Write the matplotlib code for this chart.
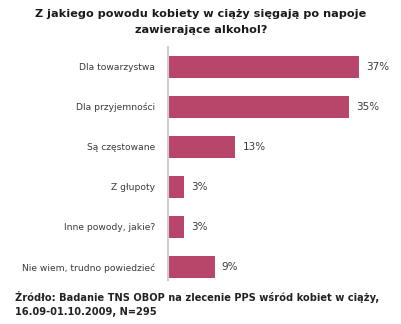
import matplotlib.pyplot as plt

# Odpowiedzi i udział procentowy
categories = ["Dla towarzystwa", "Dla przyjemności", "Są częstowane",
              "Z głupoty", "Inne powody, jakie?", "Nie wiem, trudno powiedzieć"]
values = [37, 35, 13, 3, 3, 9]
value_labels = ["37%", "35%", "13%", "3%", "3%", "9%"]

bar_color = "#B8466B"
text_gray = "#3a3a3a"

fig = plt.figure(figsize=(4.02, 3.24), dpi=100)
fig.patch.set_facecolor("white")

# oś zaczyna się przy x=168 px, 1% ~ 5.17 px
ax = fig.add_axes([168 / 402, 1 - 280 / 324, (402 - 168) / 402, (280 - 47) / 324])
pos = list(range(len(categories)))
ax.barh(pos, values, height=0.55, color=bar_color, edgecolor="none")
ax.set_xlim(0, (402 - 168) / 5.17)
ax.set_ylim(5.33, -0.49)

for p, v, lab in zip(pos, values, value_labels):
    ax.text(v + 1.4, p, lab, va="center", ha="left", fontsize=7.5, color=text_gray)

ax.set_yticks(pos)
ax.set_yticklabels(categories, fontsize=6.6, color=text_gray)
ax.tick_params(axis="y", length=0, pad=9)
ax.set_xticks([])
for side in ["top", "right", "bottom"]:
    ax.spines[side].set_visible(False)
ax.spines["left"].set_color("#cfcfcf")
ax.spines["left"].set_linewidth(1.5)

fig.text(0.5, 1 - 14 / 324, "Z jakiego powodu kobiety w ciąży sięgają po napoje",
         ha="center", va="center", fontsize=8.1, fontweight="bold", color="#1a1a1a")
fig.text(0.5, 1 - 30 / 324, "zawierające alkohol?",
         ha="center", va="center", fontsize=8.1, fontweight="bold", color="#1a1a1a")

fig.text(15 / 402, 1 - 297 / 324, "Źródło: Badanie TNS OBOP na zlecenie PPS wśród kobiet w ciąży,",
         ha="left", va="center", fontsize=7.1, fontweight="bold", color="#222222")
fig.text(15 / 402, 1 - 312 / 324, "16.09-01.10.2009, N=295",
         ha="left", va="center", fontsize=7.1, fontweight="bold", color="#222222")

fig.savefig("out.png", dpi=100)
